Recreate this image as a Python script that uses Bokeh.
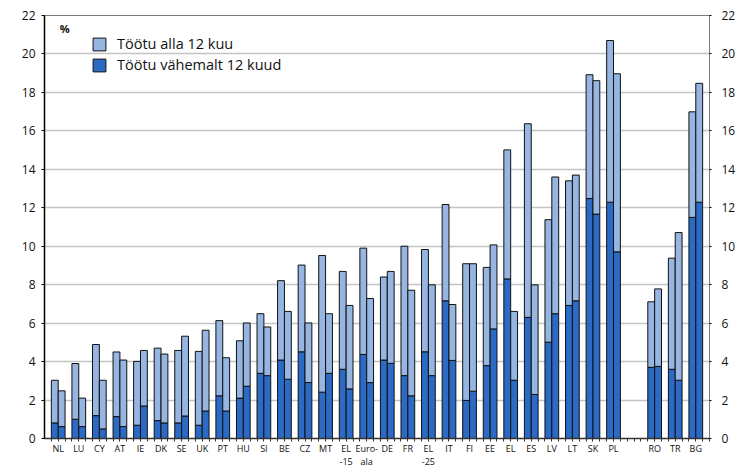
from bokeh.plotting import figure
from bokeh.models import (ColumnDataSource, FixedTicker, LinearAxis, Legend, LegendItem,
                          Label, Range1d)
from bokeh.transform import dodge
from bokeh.embed import file_html
from bokeh.resources import INLINE

countries = ["NL", "LU", "CY", "AT", "IE", "DK", "SE", "UK", "PT", "HU", "SI", "BE", "CZ",
             "MT", "EL\n-15", "Euro-\nala", "DE", "FR", "EL\n-25", "IT", "FI", "EE", "EL",
             "ES", "LV", "LT", "SK", "PL", "RO", "TR", "BG"]

# first bar of each pair: total unemployment and long-term (>=12 months) part
total_a = [3.03, 3.9, 4.89, 4.5, 4.01, 4.7, 4.58, 4.53, 6.13, 5.08, 6.49, 8.21, 9.02,
           9.52, 8.69, 9.9, 8.4, 10.0, 9.83, 12.17, 9.09, 8.9, 15.01, 16.37, 11.38,
           13.4, 18.92, 20.7, 7.11, 9.38, 16.99]
long_a = [0.81, 1.0, 1.19, 1.14, 0.69, 0.93, 0.81, 0.69, 2.22, 2.1, 3.39, 4.08, 4.51,
          2.41, 3.6, 4.37, 4.08, 3.27, 4.51, 7.16, 1.98, 3.79, 8.3, 6.3, 5.01,
          6.92, 12.48, 12.29, 3.7, 3.6, 11.5]
# second bar of each pair
total_b = [2.48, 2.1, 3.03, 4.08, 4.58, 4.39, 5.32, 5.63, 4.2, 6.01, 5.8, 6.61, 6.01,
           6.49, 6.92, 7.28, 8.69, 7.71, 7.99, 6.97, 9.09, 10.07, 6.61, 7.99, 13.6,
           13.7, 18.61, 18.97, 7.78, 10.71, 18.47]
long_b = [0.62, 0.62, 0.5, 0.62, 1.69, 0.81, 1.17, 1.43, 1.43, 2.72, 3.27, 3.08, 2.91,
          3.39, 2.58, 2.91, 3.91, 2.22, 3.27, 4.06, 2.46, 5.7, 3.03, 2.29, 6.49,
          7.16, 11.67, 9.71, 3.75, 3.03, 12.29]

y_ticks = list(range(0, 23, 2))
legend_short = "Töötu alla 12 kuu"
legend_long = "Töötu vähemalt 12 kuud"

LIGHT = "#96b5e1"
DARK = "#2b6bc6"
EDGE = "#111111"

# slot position of each country (one empty slot before the non-member group)
n = len(countries)
xpos = [i + (1 if i >= 28 else 0) for i in range(n)]
src = ColumnDataSource(dict(x=xpos, ta=total_a, la=long_a, tb=total_b, lb=long_b))

p = figure(width=738, height=470, output_backend="svg", toolbar_location=None,
           x_range=Range1d(-2/3, xpos[-1] + 2/3), y_range=Range1d(0, 22),
           min_border_left=44, min_border_right=26, min_border_top=15, min_border_bottom=0)
p.background_fill_color = "white"
p.border_fill_color = "white"
p.outline_line_color = "#7a7a7a"
p.outline_line_width = 1

W = 1/3
xa = dodge("x", -1/6, range=p.x_range)
xb = dodge("x", 1/6, range=p.x_range)
r_la = p.vbar(x=xa, width=W, bottom=0, top="la", source=src, fill_color=DARK, line_color=EDGE, line_width=1)
r_ta = p.vbar(x=xa, width=W, bottom="la", top="ta", source=src, fill_color=LIGHT, line_color=EDGE, line_width=1)
p.vbar(x=xb, width=W, bottom=0, top="lb", source=src, fill_color=DARK, line_color=EDGE, line_width=1)
p.vbar(x=xb, width=W, bottom="lb", top="tb", source=src, fill_color=LIGHT, line_color=EDGE, line_width=1)

# grid
p.xgrid.visible = False
p.ygrid.ticker = FixedTicker(ticks=y_ticks)
p.ygrid.grid_line_color = "#c4c4c4"
p.ygrid.grid_line_width = 1.6
p.ygrid.level = "underlay"

FONT = "Open Sans"
# x axis
xax = p.xaxis[0]
minor = [k / 3 for k in range(-1, 3 * (xpos[-1] + 1))]
xax.ticker = FixedTicker(ticks=xpos, minor_ticks=minor)
xax.major_label_overrides = {xp: c for xp, c in zip(xpos, countries)}
xax.major_tick_out = 0
xax.major_tick_in = 0
xax.minor_tick_out = 3
xax.minor_tick_in = 0
xax.minor_tick_line_color = "#333333"
xax.axis_line_color = "#333333"
xax.axis_line_width = 1.5
xax.major_label_text_font = FONT
xax.major_label_text_font_size = "9px"
xax.major_label_standoff = 0
xax.major_label_text_color = "#111111"
xax.major_label_text_line_height = 1.0

# left y axis
yax = p.yaxis[0]
yax.ticker = FixedTicker(ticks=y_ticks)
yax.major_tick_out = 3
yax.major_tick_in = 0
yax.minor_tick_out = 0
yax.axis_line_color = "black"
yax.axis_line_width = 1.5
yax.major_label_text_font = FONT
yax.major_label_text_font_size = "12px"
yax.major_label_standoff = 6
yax.major_label_text_color = "#111111"

# right y axis
rax = LinearAxis(ticker=FixedTicker(ticks=y_ticks))
rax.major_tick_out = 2
rax.major_tick_in = 0
rax.minor_tick_out = 0
rax.axis_line_color = "#7a7a7a"
rax.major_label_text_font = FONT
rax.major_label_text_font_size = "12px"
rax.major_label_standoff = 10
rax.major_label_text_color = "#111111"
p.add_layout(rax, "right")

# "%" unit label
p.add_layout(Label(x=0.07, y=21.3, text="%", text_font=FONT, text_font_size="11px",
                   text_font_style="bold", text_baseline="middle", text_color="#111111"))

legend = Legend(items=[LegendItem(label=legend_short, renderers=[r_ta]),
                       LegendItem(label=legend_long, renderers=[r_la])],
                location=(45, 362))
legend.background_fill_alpha = 0
legend.border_line_alpha = 0
legend.glyph_width = 16
legend.glyph_height = 16
legend.label_height = 16
legend.spacing = 2
legend.padding = 2
legend.label_standoff = 10
legend.label_text_font = FONT
legend.label_text_font_size = "14.5px"
legend.label_text_color = "#111111"
p.add_layout(legend)

open("out.html", "w").write(file_html(p, INLINE))
